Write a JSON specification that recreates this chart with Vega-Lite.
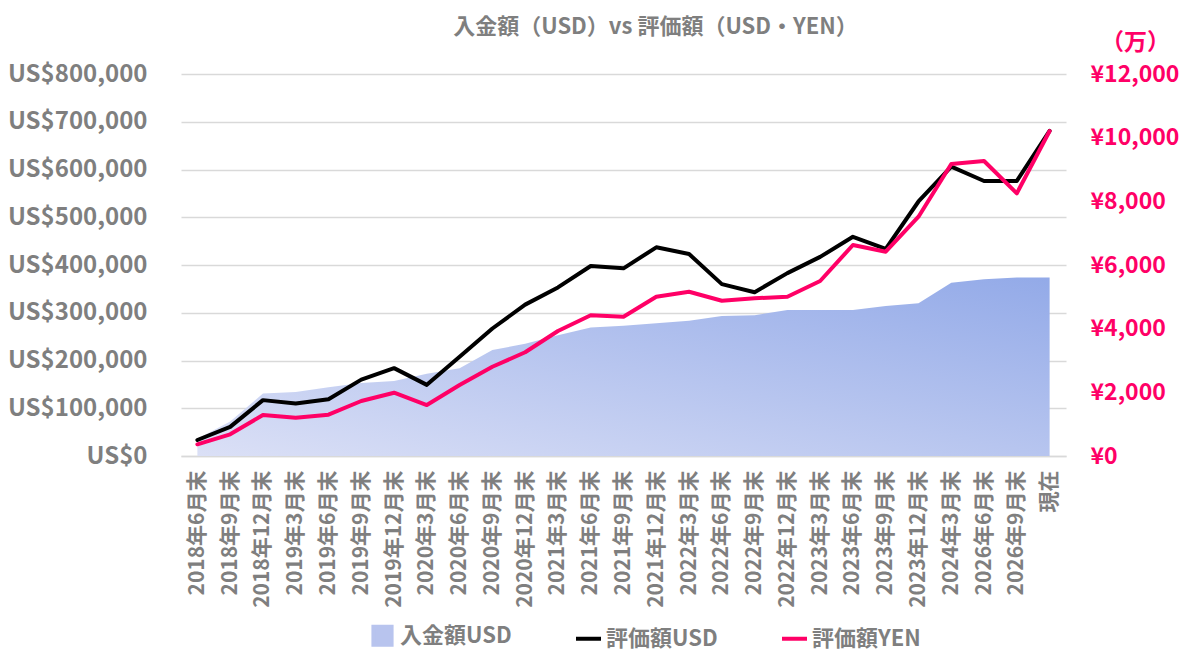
{
  "$schema": "https://vega.github.io/schema/vega-lite/v6.json",
  "width": 885,
  "height": 382,
  "autosize": {"type": "none"},
  "padding": {"left": 181, "top": 74, "right": 134, "bottom": 209},
  "title": {
    "text": "入金額（USD）vs 評価額（USD・YEN）",
    "anchor": "middle",
    "dx": 32,
    "offset": -8,
    "color": "#7f7f7f",
    "fontSize": 22,
    "fontWeight": "bold"
  },
  "data": {
    "values": [
      {"date": "2018年6月末", "deposit": 36000, "usd": 33500, "yen": 367},
      {"date": "2018年9月末", "deposit": 72000, "usd": 61000, "yen": 682},
      {"date": "2018年12月末", "deposit": 131000, "usd": 117000, "yen": 1288},
      {"date": "2019年3月末", "deposit": 134000, "usd": 110000, "yen": 1203},
      {"date": "2019年6月末", "deposit": 144000, "usd": 119000, "yen": 1297},
      {"date": "2019年9月末", "deposit": 153000, "usd": 160000, "yen": 1728},
      {"date": "2019年12月末", "deposit": 157000, "usd": 184000, "yen": 1988},
      {"date": "2020年3月末", "deposit": 172000, "usd": 149000, "yen": 1602},
      {"date": "2020年6月末", "deposit": 184000, "usd": 208000, "yen": 2230},
      {"date": "2020年9月末", "deposit": 222000, "usd": 267000, "yen": 2805},
      {"date": "2020年12月末", "deposit": 235000, "usd": 317000, "yen": 3258},
      {"date": "2021年3月末", "deposit": 253000, "usd": 353000, "yen": 3927},
      {"date": "2021年6月末", "deposit": 269000, "usd": 398000, "yen": 4420},
      {"date": "2021年9月末", "deposit": 273000, "usd": 393000, "yen": 4376},
      {"date": "2021年12月末", "deposit": 278000, "usd": 437000, "yen": 5004},
      {"date": "2022年3月末", "deposit": 283000, "usd": 423000, "yen": 5161},
      {"date": "2022年6月末", "deposit": 293000, "usd": 360000, "yen": 4878},
      {"date": "2022年9月末", "deposit": 295000, "usd": 343000, "yen": 4954},
      {"date": "2022年12月末", "deposit": 306000, "usd": 383000, "yen": 5004},
      {"date": "2023年3月末", "deposit": 306000, "usd": 417000, "yen": 5497},
      {"date": "2023年6月末", "deposit": 306000, "usd": 459000, "yen": 6628},
      {"date": "2023年9月末", "deposit": 314000, "usd": 434000, "yen": 6418},
      {"date": "2023年12月末", "deposit": 320000, "usd": 533000, "yen": 7517},
      {"date": "2024年3月末", "deposit": 363000, "usd": 606000, "yen": 9172},
      {"date": "2026年6月末", "deposit": 370000, "usd": 576000, "yen": 9267},
      {"date": "2026年9月末", "deposit": 374000, "usd": 576000, "yen": 8252},
      {"date": "現在", "deposit": 374000, "usd": 681000, "yen": 10209}
    ]
  },
  "encoding": {
    "x": {
      "field": "date",
      "type": "ordinal",
      "sort": null,
      "scale": {"type": "point", "padding": 0.5},
      "axis": {
        "title": null,
        "labelAngle": -90,
        "labelPadding": 14,
        "labelFontSize": 21,
        "labelFontWeight": "bold",
        "labelColor": "#7f7f7f",
        "ticks": false,
        "grid": false,
        "domainColor": "#d9d9d9",
        "domainWidth": 1.5
      }
    }
  },
  "layer": [
    {
      "mark": {
        "type": "area",
        "color": {
          "gradient": "linear",
          "x1": 0, "y1": 1, "x2": 1, "y2": 0,
          "stops": [
            {"offset": 0, "color": "#dbe0f6"},
            {"offset": 1, "color": "#93aae8"}
          ]
        }
      },
      "encoding": {
        "y": {
          "field": "deposit",
          "type": "quantitative",
          "scale": {"domain": [0, 800000]},
          "axis": {
            "orient": "left",
            "title": null,
            "values": [0, 100000, 200000, 300000, 400000, 500000, 600000, 700000, 800000],
            "labelExpr": "'US$' + format(datum.value, ',')",
            "labelFontSize": 24,
            "labelFontWeight": "bold",
            "labelColor": "#7f7f7f",
            "labelPadding": 34,
            "ticks": false,
            "domain": false,
            "grid": true,
            "gridColor": "#d9d9d9",
            "gridWidth": 1.3
          }
        }
      }
    },
    {
      "mark": {"type": "line", "strokeWidth": 4, "strokeJoin": "round", "strokeCap": "round"},
      "encoding": {
        "y": {
          "field": "usd",
          "type": "quantitative",
          "scale": {"domain": [0, 800000]},
          "axis": null
        },
        "color": {
          "datum": "評価額USD",
          "type": "nominal",
          "scale": {
            "domain": ["入金額USD", "評価額USD", "評価額YEN"],
            "range": ["#b8c4ee", "#000000", "#ff0066"]
          },
          "legend": {
            "title": null,
            "orient": "none",
            "direction": "horizontal",
            "legendX": 187,
            "legendY": 547,
            "labelFontSize": 22,
            "labelFontWeight": "bold",
            "labelColor": "#7f7f7f",
            "labelOffset": 3,
            "columnPadding": 56,
            "symbolSize": 625,
            "encode": {
              "symbols": {
                "update": {
                  "shape": {"signal": "datum.value === '入金額USD' ? 'square' : 'stroke'"},
                  "fill": {"signal": "datum.value === '入金額USD' ? '#b8c4ee' : 'transparent'"},
                  "stroke": {"signal": "datum.value === '入金額USD' ? 'transparent' : datum.value === '評価額USD' ? '#000000' : '#ff0066'"},
                  "strokeWidth": {"value": 4},
                  "size": {"signal": "datum.value === '入金額USD' ? 330 : 625"},
                  "opacity": {"value": 1}
                }
              }
            }
          }
        }
      }
    },
    {
      "mark": {"type": "line", "strokeWidth": 4, "strokeJoin": "round", "strokeCap": "round"},
      "encoding": {
        "y": {
          "field": "yen",
          "type": "quantitative",
          "scale": {"domain": [0, 12000]},
          "axis": {
            "orient": "right",
            "title": "（万）",
            "titleAngle": 0,
            "titleX": 69,
            "titleY": -32,
            "titleAlign": "center",
            "titleBaseline": "middle",
            "titleColor": "#ff0066",
            "titleFontSize": 23,
            "titleFontWeight": "bold",
            "values": [0, 2000, 4000, 6000, 8000, 10000, 12000],
            "labelExpr": "'¥' + format(datum.value, ',')",
            "labelFontSize": 23,
            "labelFontWeight": "bold",
            "labelColor": "#ff0066",
            "labelPadding": 24,
            "ticks": false,
            "domain": false,
            "grid": false
          }
        },
        "color": {"datum": "評価額YEN", "type": "nominal"}
      }
    }
  ],
  "resolve": {"scale": {"y": "independent"}},
  "config": {
    "font": "Noto Sans CJK JP",
    "view": {"stroke": null},
    "background": "#ffffff"
  }
}
